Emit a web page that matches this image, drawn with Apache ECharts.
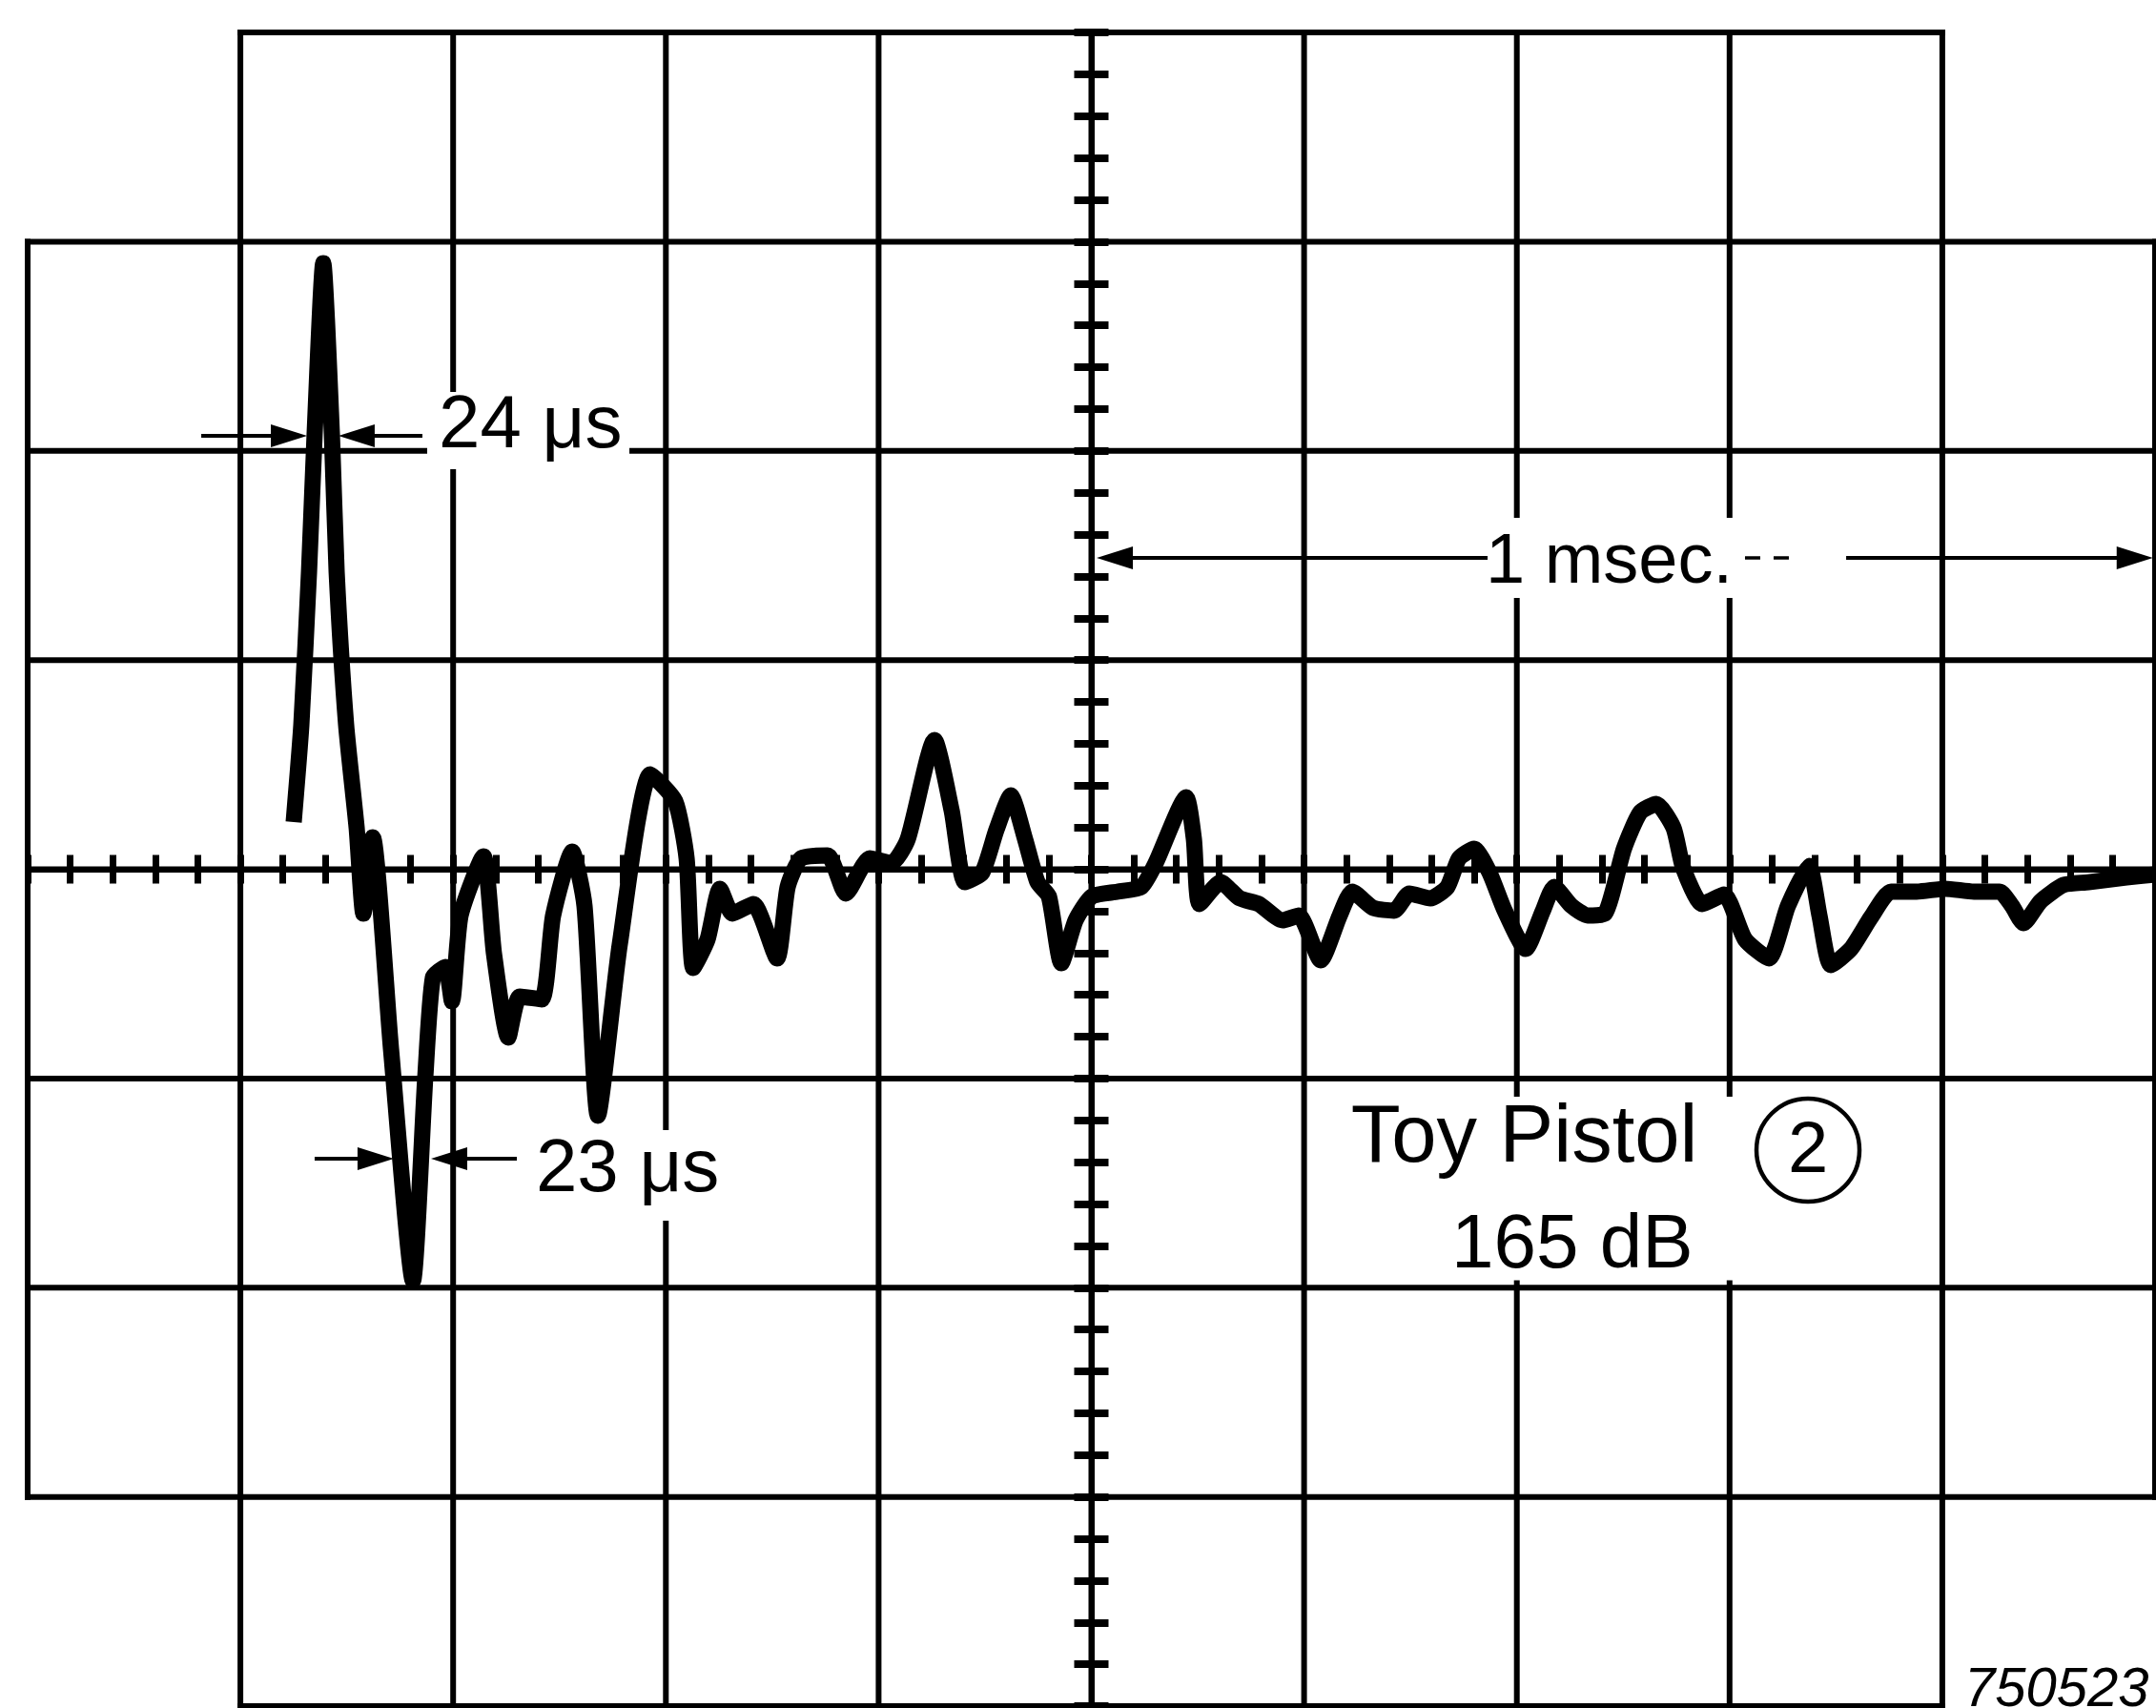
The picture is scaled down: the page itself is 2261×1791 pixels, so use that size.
<!DOCTYPE html>
<html>
<head>
<meta charset="utf-8">
<script src="https://cdn.jsdelivr.net/npm/echarts@6/dist/echarts.min.js"></script>
<style>
html,body{margin:0;padding:0;background:#fff;}
#c{width:2261px;height:1791px;}
</style>
</head>
<body>
<div id="c"></div>
<script>
// ---- time axis (microseconds, 0 = centre graticule line), 200 us / division
const gridTimes = [-1000, -800, -600, -400, -200, 0, 200, 400, 600, 800, 1000];
// ---- vertical divisions
const gridLevels = [-4, -3, -2, -1, 0, 1, 2, 3, 4];

// ---- oscilloscope trace
const traceTime = [
  -749.9, -742.7, -735.5, -730.2, -722.1, -714.0, -709.5, -700.6, -690.7, -684.4,
  -675.5, -658.4, -637.8, -626.2, -619.0, -607.3, -601.1, -593.0, -571.5, -561.6,
  -548.2, -537.4, -516.8, -506.0, -488.1, -476.5, -463.9, -443.3, -414.6, -391.3,
  -380.5, -374.3, -360.8, -349.2, -337.5, -317.8, -295.4, -285.5, -273.0, -247.9,
  -230.8, -208.4, -187.8, -172.6, -147.5, -131.3, -118.8, -102.6, -89.2, -75.7,
  -62.3, -50.6, -39.9, -28.2, -14.8, 0.5, 24.7, 47.1, 60.5, 89.2,
  96.4, 101.7, 121.5, 139.4, 157.3, 179.7, 195.0, 215.6, 233.5, 245.2,
  264.9, 284.6, 299.0, 318.7, 334.8, 345.6, 359.9, 374.3, 388.6, 408.3,
  424.5, 435.2, 451.4, 466.6, 482.8, 500.7, 515.9, 531.2, 547.3, 556.3,
  574.2, 594.8, 614.5, 637.0, 654.9, 674.6, 684.5, 695.2, 714.0, 732.9,
  751.7, 775.9, 802.8, 829.7, 853.9, 865.5, 876.3, 892.4, 914.0, 937.3,
  973.1, 1000.0
];
const traceVolt = [
  0.226, 0.690, 1.420, 2.081, 2.897, 2.081, 1.420, 0.690, 0.198, -0.212,
  0.153, -0.859, -1.967, -0.996, -0.517, -0.467, -0.631, -0.221, 0.062, -0.403,
  -0.804, -0.608, -0.622, -0.221, 0.084, -0.175, -1.178, -0.358, 0.454, 0.326,
  0.052, -0.472, -0.335, -0.093, -0.212, -0.166, -0.426, -0.084, 0.052, 0.066,
  -0.116, 0.052, 0.030, 0.144, 0.618, 0.280, -0.062, -0.016, 0.189, 0.353,
  0.144, -0.062, -0.130, -0.449, -0.244, -0.130, -0.107, -0.084, 0.030, 0.344,
  0.144, -0.166, -0.062, -0.139, -0.166, -0.244, -0.221, -0.435, -0.221, -0.107,
  -0.185, -0.198, -0.116, -0.139, -0.084, 0.052, 0.098, -0.016, -0.198, -0.381,
  -0.198, -0.084, -0.175, -0.221, -0.212, 0.098, 0.271, 0.312, 0.198, 0.007,
  -0.166, -0.121, -0.335, -0.426, -0.175, 0.016, -0.221, -0.458, -0.381, -0.230,
  -0.107, -0.107, -0.093, -0.107, -0.107, -0.175, -0.258, -0.153, -0.075, -0.062,
  -0.039, -0.025
];

// ---- dimension arrows: [from time, arrow-tip time, level]
const arrowFrom  = [-836.8, -628.9, -730.2, -540.1, 372.5, 709.6];
const arrowTip   = [-737.3, -707.8, -655.8, -620.8, 5.0, 998.0];
const arrowLevel = [2.072, 2.072, -1.383, -1.383, 1.488, 1.488];
// broken (dashed) part of the "1 msec." span
const dashFrom = [614.5], dashTo = [662.0], dashLevel = [1.488];

// ---- annotation texts
const noteText  = ['24 \u03bcs', '23 \u03bcs', '1 msec.', 'Toy Pistol', '165 dB', '750523'];
const noteTime  = [-613.6, -522.2, 370.7, 244.0, 338.4, 820.7];
const noteLevel = [2.115, -1.440, 1.465, -1.292, -1.803, -3.927];
// circled number
const circleText = ['2'], circleTime = [673.7], circleLevel = [-1.342];

// white label backgrounds that interrupt the graticule: [t1, v1, t2, v2]
const maskT1 = [-624.4, -532.9, 373.4, 229.0];
const maskT2 = [-434.3, -344.7, 610.9, 731.1];
const maskV1 = [2.281, -1.247, 1.680, -1.087];
const maskV2 = [1.912, -1.680, 1.297, -1.965];

// ---------- build library inputs ----------
const traceData = traceTime.map((t, i) => [t, traceVolt[i]]);
const gridSegs = [];
gridTimes.forEach(t => { const e = Math.abs(t) === 1000 ? 3 : 4; gridSegs.push([t, -e, t, e]); });
gridLevels.forEach(v => { const e = Math.abs(v) === 4 ? 800 : 1000; gridSegs.push([-e, v, e, v]); });
const arrowData = arrowFrom.map((t, i) => [t, arrowLevel[i], arrowTip[i]]);
const dashData = dashFrom.map((t, i) => [t, dashLevel[i], dashTo[i]]);
const noteData = noteTime.map((t, i) => [t, noteLevel[i], i]);
const circleData = circleTime.map((t, i) => [t, circleLevel[i], i]);
const maskData = maskT1.map((t, i) => [t, maskV1[i], maskT2[i], maskV2[i]]);

const FONT = '"Liberation Sans", Arial, Helvetica, sans-serif';
const noteFont = [
  '78px ' + FONT, '78px ' + FONT, '74px ' + FONT, '85px ' + FONT, '80px ' + FONT, 'italic 58px ' + FONT
];

function axisX(pos, idx) {
  return {
    type: 'value', min: -1000, max: 1000, interval: 40, position: pos,
    axisLine: { show: true, onZero: true, onZeroAxisIndex: idx, lineStyle: { color: '#000', width: 6 } },
    axisTick: { show: true, length: 15, lineStyle: { color: '#000', width: 7 } },
    axisLabel: { show: false }, splitLine: { show: false }
  };
}
function axisY(pos, idx) {
  return {
    type: 'value', min: -4, max: 4, interval: 0.2, position: pos,
    axisLine: { show: true, onZero: true, onZeroAxisIndex: idx, lineStyle: { color: '#000', width: 6 } },
    axisTick: { show: true, length: 18, lineStyle: { color: '#000', width: 8 } },
    axisLabel: { show: false }, splitLine: { show: false }
  };
}

const chart = echarts.init(document.getElementById('c'), null, { renderer: 'canvas' });
chart.setOption({
  animation: false,
  backgroundColor: '#fff',
  grid: { left: 29, right: 1, top: 34, bottom: 2, containLabel: false },
  xAxis: [axisX('bottom', 0), axisX('top', 1)],
  yAxis: [axisY('left', 0), axisY('right', 1)],
  series: [
    {
      type: 'custom', name: 'graticule', data: gridSegs, z: 1, silent: true,
      renderItem: (p, api) => {
        const a = api.coord([api.value(0), api.value(1)]);
        const b = api.coord([api.value(2), api.value(3)]);
        return { type: 'line', shape: { x1: a[0], y1: a[1], x2: b[0], y2: b[1] },
          style: { stroke: '#000', lineWidth: 6, lineCap: 'square' } };
      }
    },
    {
      type: 'line', name: 'trace', data: traceData, z: 3, silent: true,
      showSymbol: false, symbol: 'none', smooth: 0.2,
      lineStyle: { color: '#000', width: 17, join: 'round', cap: 'butt' }
    },
    {
      type: 'custom', name: 'masks', data: maskData, z: 4, silent: true,
      renderItem: (p, api) => {
        const a = api.coord([api.value(0), api.value(1)]);
        const b = api.coord([api.value(2), api.value(3)]);
        return { type: 'rect', shape: { x: Math.min(a[0], b[0]), y: Math.min(a[1], b[1]),
          width: Math.abs(b[0] - a[0]), height: Math.abs(b[1] - a[1]) },
          style: { fill: '#fff' } };
      }
    },
    {
      type: 'custom', name: 'arrows', data: arrowData, z: 5, silent: true,
      renderItem: (p, api) => {
        const a = api.coord([api.value(0), api.value(1)]);
        const b = api.coord([api.value(2), api.value(1)]);
        const d = b[0] > a[0] ? 1 : -1;
        const L = 38, W = 12;
        return { type: 'group', children: [
          { type: 'line', shape: { x1: a[0], y1: a[1], x2: b[0] - d * L * 0.6, y2: b[1] },
            style: { stroke: '#000', lineWidth: 4 } },
          { type: 'polygon', shape: { points: [[b[0], b[1]], [b[0] - d * L, b[1] - W], [b[0] - d * L, b[1] + W]] },
            style: { fill: '#000' } }
        ] };
      }
    },
    {
      type: 'custom', name: 'dashes', data: dashData, z: 5, silent: true,
      renderItem: (p, api) => {
        const a = api.coord([api.value(0), api.value(1)]);
        const b = api.coord([api.value(2), api.value(1)]);
        return { type: 'line', shape: { x1: a[0], y1: a[1], x2: b[0], y2: b[1] },
          style: { stroke: '#000', lineWidth: 3.5, lineDash: [16, 14] } };
      }
    },
    {
      type: 'custom', name: 'notes', data: noteData, z: 6, silent: true,
      renderItem: (p, api) => {
        const a = api.coord([api.value(0), api.value(1)]);
        const i = api.value(2);
        return { type: 'text', x: a[0], y: a[1],
          style: { text: noteText[i], font: noteFont[i], fill: '#000', align: 'left', verticalAlign: 'middle' } };
      }
    },
    {
      type: 'custom', name: 'circled', data: circleData, z: 6, silent: true,
      renderItem: (p, api) => {
        const a = api.coord([api.value(0), api.value(1)]);
        const i = api.value(2);
        return { type: 'group', children: [
          { type: 'circle', shape: { cx: a[0], cy: a[1], r: 54 },
            style: { stroke: '#000', lineWidth: 4.5, fill: 'rgba(0,0,0,0)' } },
          { type: 'text', x: a[0], y: a[1] + 2,
            style: { text: circleText[i], font: '76px ' + FONT, fill: '#000', align: 'center', verticalAlign: 'middle' } }
        ] };
      }
    }
  ]
});
</script>
</body>
</html>
